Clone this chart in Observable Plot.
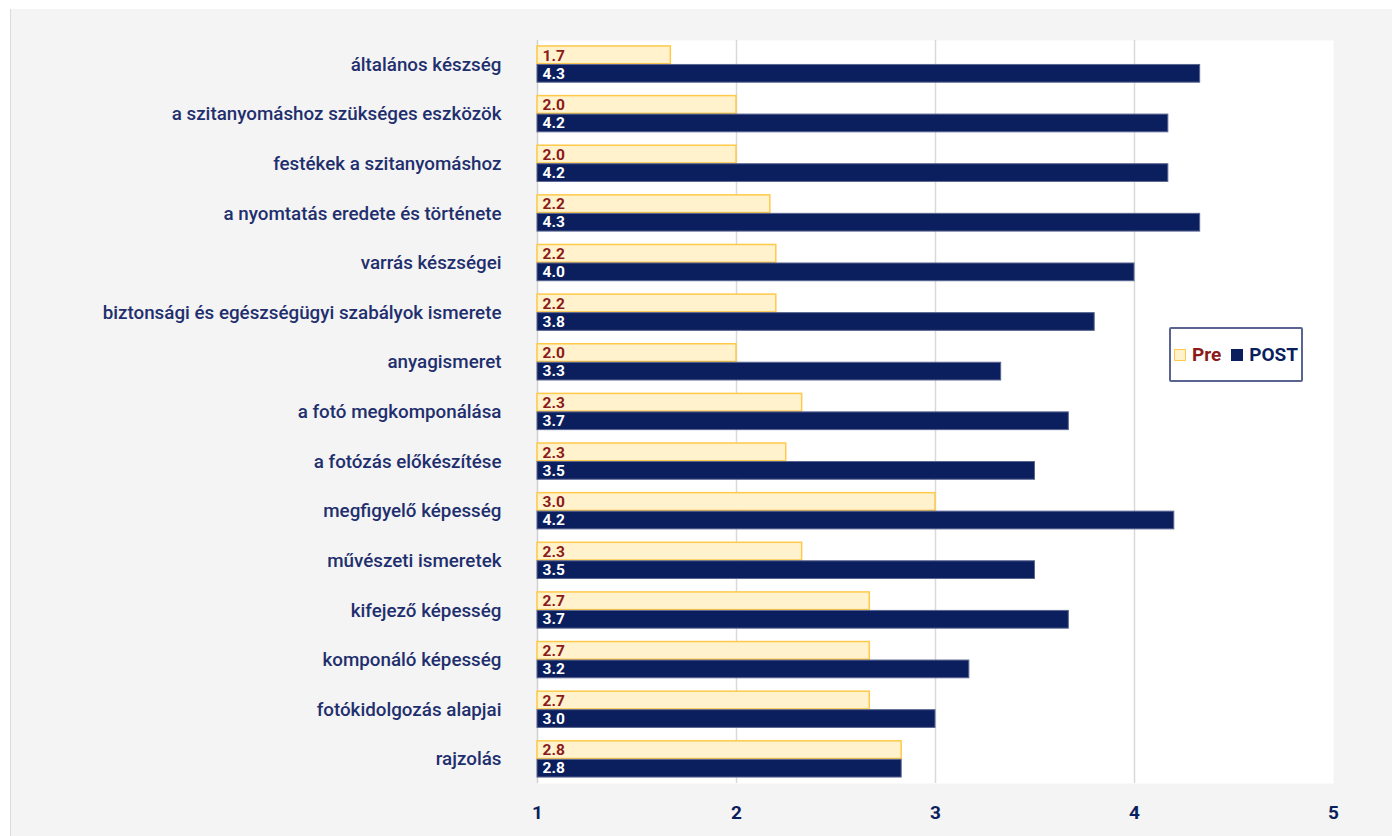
<!DOCTYPE html>
<html>
<head>
<meta charset="utf-8">
<script src="https://cdn.jsdelivr.net/npm/d3@7"></script>
<script src="https://cdn.jsdelivr.net/npm/@observablehq/plot@0.6"></script>
<style>
  html, body { margin: 0; padding: 0; background: #ffffff; }
  #wrap { position: absolute; left: 10px; top: 9px; width: 1382px; height: 827px; background: #f4f4f4; border-left: 1px solid #dcdcdc; }
  #chart { position: absolute; left: 0; top: 0; }
  #legend { position: absolute; left: 1158px; top: 318px; width: 130px; height: 51px; background: #fff; border: 2px solid #5b6491; border-radius: 2px;
            display: flex; align-items: center; justify-content: center; gap: 6px; font-family: Roboto, sans-serif; font-weight: bold; font-size: 19px; }
  .sw { display: inline-block; width: 12px; height: 12px; box-sizing: border-box; }
</style>
</head>
<body>
<div id="wrap">
  <div id="chart"></div>
  <div id="legend">
    <span class="sw" style="background:#fff2cc;border:1.5px solid #ffc94a"></span><span style="color:#8b1a1a">Pre</span>
    <span class="sw" style="background:#0b1f5e;margin-left:4px"></span><span style="color:#0b1f5e">POST</span>
  </div>
</div>
<script>
const categories = [
  "általános készség",
  "a szitanyomáshoz szükséges eszközök",
  "festékek a szitanyomáshoz",
  "a nyomtatás eredete és története",
  "varrás készségei",
  "biztonsági és egészségügyi szabályok ismerete",
  "anyagismeret",
  "a fotó megkomponálása",
  "a fotózás előkészítése",
  "megfigyelő képesség",
  "művészeti ismeretek",
  "kifejező képesség",
  "komponáló képesség",
  "fotókidolgozás alapjai",
  "rajzolás"
];
const preValues  = [1.67, 2.0, 2.0, 2.17, 2.2, 2.2, 2.0, 2.33, 2.25, 3.0, 2.33, 2.67, 2.67, 2.67, 2.83];
const postValues = [4.33, 4.17, 4.17, 4.33, 4.0, 3.8, 3.33, 3.67, 3.5, 4.2, 3.5, 3.67, 3.17, 3.0, 2.83];
const xTicks = [1, 2, 3, 4, 5];
const gridTicks = [2, 3, 4];

const pre = categories.map((c, i) => ({category: c, value: preValues[i]}));
const post = categories.map((c, i) => ({category: c, value: postValues[i]}));

const navy = "#0b1f5e";
const labelFont = "Roboto, sans-serif";

const chart = Plot.plot({
  width: 1381,
  height: 827,
  marginLeft: 526,
  marginRight: 59,
  marginTop: 31,
  marginBottom: 53,
  style: {background: "transparent", fontFamily: labelFont},
  x: {domain: [1, 5], ticks: xTicks, label: null},
  y: {domain: categories, paddingInner: 0.27, paddingOuter: 0.12, round: false, label: null},
  marks: [
    Plot.frame({fill: "white", stroke: null}),
    Plot.gridX(gridTicks, {stroke: "#d9d9d9", strokeOpacity: 1, strokeWidth: 1.5}),
    Plot.ruleX([1], {stroke: "#d0d0d0", strokeWidth: 1.5}),
    Plot.barX(pre, {x1: 1, x2: "value", y: "category", insetBottom: 18.5, insetTop: 0, fill: "#fff2cc", stroke: "#ffc94a", strokeWidth: 1.5}),
    Plot.barX(post, {x1: 1, x2: "value", y: "category", insetTop: 18.5, insetBottom: 0, fill: navy, stroke: "#5a6590", strokeWidth: 1}),
    Plot.text(pre, {x: 1, y: "category", text: d => d.value.toFixed(1), dx: 5, dy: -9, textAnchor: "start", fill: "#8b1a1a", fontWeight: "bold", fontSize: 15.5}),
    Plot.text(post, {x: 1, y: "category", text: d => d.value.toFixed(1), dx: 5, dy: 9, textAnchor: "start", fill: "white", fontWeight: "bold", fontSize: 15.5}),
    Plot.axisX({ticks: xTicks, tickSize: 0, tickPadding: 22, fontSize: 19, fontWeight: "bold", color: navy, tickFormat: d => String(d)}),
    Plot.axisY({tickSize: 0, tickPadding: 36, fontSize: 18.8, fontWeight: 500, color: "#1f2f6e"})
  ]
});
document.getElementById("chart").appendChild(chart);
</script>
</body>
</html>
